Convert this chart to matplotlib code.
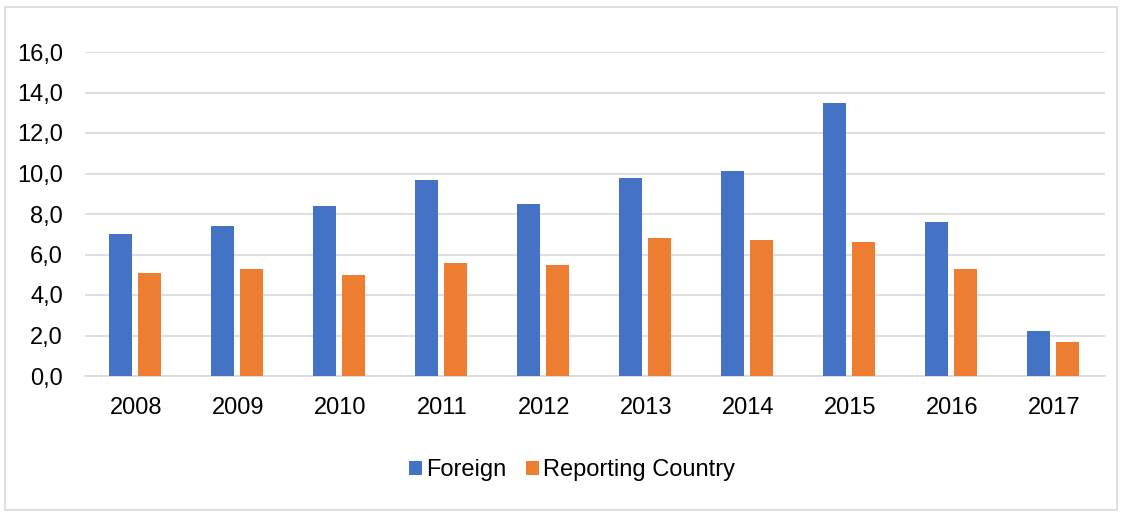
import numpy as np
import matplotlib
matplotlib.use('Agg')
import matplotlib.pyplot as plt
from matplotlib.patches import Rectangle

years = ['2008', '2009', '2010', '2011', '2012', '2013', '2014', '2015', '2016', '2017']
foreign = [7.0, 7.4, 8.4, 9.7, 8.5, 9.8, 10.1, 13.5, 7.6, 2.2]
reporting = [5.1, 5.3, 5.0, 5.6, 5.5, 6.8, 6.7, 6.6, 5.3, 1.7]

plt.rcParams['font.family'] = ['Liberation Sans', 'DejaVu Sans']

fig = plt.figure(figsize=(11.27, 5.14), dpi=100)
fig.patches.append(Rectangle((5 / 1127, 1 - 510 / 514), 1112 / 1127, 503 / 514,
                             transform=fig.transFigure, fill=False,
                             edgecolor='#d9d9d9', linewidth=1.2))
ax = fig.add_axes([85 / 1127, 1 - 376 / 514, 1020 / 1127, 324 / 514])

x = np.arange(len(years))
w = 0.225
ax.bar(x - 0.15, foreign, width=w, color='#4472c4', label='Foreign', zorder=3)
ax.bar(x + 0.13, reporting, width=w, color='#ed7d31', label='Reporting Country', zorder=3)

ax.set_xlim(-0.5, len(years) - 0.5)
ax.set_ylim(0, 16)
ax.set_yticks(np.arange(0, 17, 2))
ax.set_yticklabels([f'{v:.1f}'.replace('.', ',') for v in np.arange(0, 17, 2)])
ax.set_xticks(x)
ax.set_xticklabels(years)
ax.yaxis.grid(True, color='#d9d9d9', linewidth=1.2, zorder=0)
ax.tick_params(axis='both', length=0, labelsize=17, colors='#000000')
ax.tick_params(axis='y', pad=16)
ax.tick_params(axis='x', pad=15)
for s in ['top', 'right', 'left']:
    ax.spines[s].set_visible(False)
ax.spines['bottom'].set_color('#d9d9d9')
ax.spines['bottom'].set_linewidth(1.2)

fig.legend(loc='center', bbox_to_anchor=(572 / 1127, 1 - 470 / 514), ncol=2,
           frameon=False, fontsize=17, handlelength=0.55, handleheight=0.55,
           handletextpad=0.2, columnspacing=0.8)

fig.savefig('out.png', dpi=100)
